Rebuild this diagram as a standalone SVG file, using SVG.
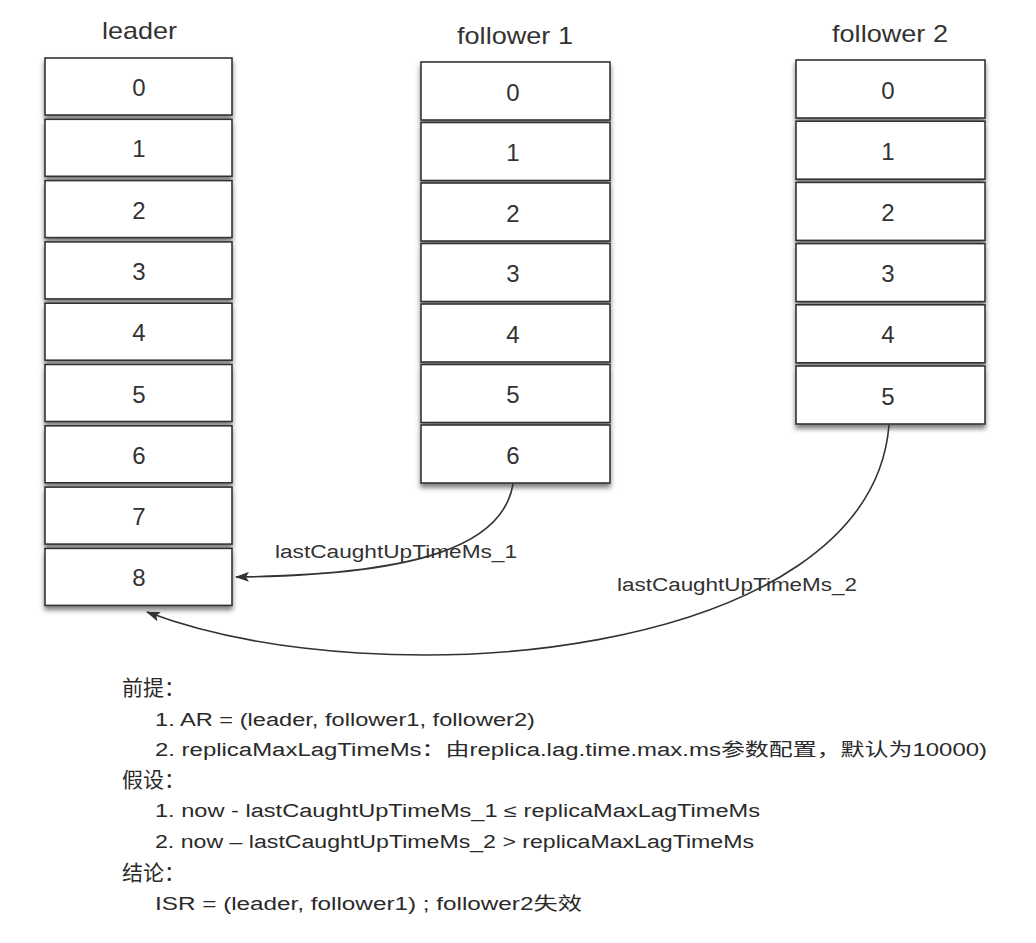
<svg xmlns="http://www.w3.org/2000/svg" width="1036" height="943" viewBox="0 0 1036 943">
<defs>
<filter id="sh" x="-10%" y="-20%" width="120%" height="160%">
<feDropShadow dx="0" dy="4" stdDeviation="2.5" flood-color="#666" flood-opacity="0.85"/>
</filter>
<marker id="ah" viewBox="0 0 14 10" refX="13" refY="5" markerWidth="14" markerHeight="10" markerUnits="userSpaceOnUse" orient="auto">
<path d="M0,0 L14,5 L0,10 L3,5 Z" fill="#333"/>
</marker>
</defs>
<style>
.cell{fill:#fff;stroke:#333;stroke-width:1.6;filter:url(#sh)}
.num{font-family:"Liberation Sans",Arial,sans-serif;font-size:24px;fill:#333;text-anchor:middle}
.ttl{font-family:"Liberation Sans",Arial,sans-serif;font-size:24px;fill:#333}
.lbl{font-family:"Liberation Sans",Arial,sans-serif;font-size:18px;fill:#333}
.txt{font-family:"Liberation Sans","Noto Sans CJK SC",sans-serif;font-size:18px;fill:#2a2a2a}
.hd{font-family:"Noto Sans CJK SC","Liberation Sans",sans-serif;font-size:21px;fill:#2a2a2a}
.con{fill:none;stroke:#333;stroke-width:1.6}
</style>
<rect width="1036" height="943" fill="#fff"/>

<g id="leader">
<text class="ttl" x="102" y="39" textLength="75" lengthAdjust="spacingAndGlyphs">leader</text>
<g id="leader-0"><rect class="cell" x="45" y="58" width="187" height="57"/><text class="num" x="139" y="96">0</text></g>
<g id="leader-1"><rect class="cell" x="45" y="119.3" width="187" height="57"/><text class="num" x="139" y="157.3">1</text></g>
<g id="leader-2"><rect class="cell" x="45" y="180.6" width="187" height="57"/><text class="num" x="139" y="218.6">2</text></g>
<g id="leader-3"><rect class="cell" x="45" y="241.9" width="187" height="57"/><text class="num" x="139" y="279.9">3</text></g>
<g id="leader-4"><rect class="cell" x="45" y="303.2" width="187" height="57"/><text class="num" x="139" y="341.2">4</text></g>
<g id="leader-5"><rect class="cell" x="45" y="364.5" width="187" height="57"/><text class="num" x="139" y="402.5">5</text></g>
<g id="leader-6"><rect class="cell" x="45" y="425.8" width="187" height="57"/><text class="num" x="139" y="463.8">6</text></g>
<g id="leader-7"><rect class="cell" x="45" y="487.1" width="187" height="57"/><text class="num" x="139" y="525.1">7</text></g>
<g id="leader-8"><rect class="cell" x="45" y="548.4" width="187" height="57"/><text class="num" x="139" y="586.4">8</text></g>
</g>

<g id="follower1">
<text class="ttl" x="457" y="44" textLength="116" lengthAdjust="spacingAndGlyphs">follower 1</text>
<g id="follower1-0"><rect class="cell" x="421" y="62" width="189" height="58"/><text class="num" x="513" y="100.5">0</text></g>
<g id="follower1-1"><rect class="cell" x="421" y="122.5" width="189" height="58"/><text class="num" x="513" y="161">1</text></g>
<g id="follower1-2"><rect class="cell" x="421" y="183" width="189" height="58"/><text class="num" x="513" y="221.5">2</text></g>
<g id="follower1-3"><rect class="cell" x="421" y="243.5" width="189" height="58"/><text class="num" x="513" y="282">3</text></g>
<g id="follower1-4"><rect class="cell" x="421" y="304" width="189" height="58"/><text class="num" x="513" y="342.5">4</text></g>
<g id="follower1-5"><rect class="cell" x="421" y="364.5" width="189" height="58"/><text class="num" x="513" y="403">5</text></g>
<g id="follower1-6"><rect class="cell" x="421" y="425" width="189" height="58"/><text class="num" x="513" y="463.5">6</text></g>
</g>

<g id="follower2">
<text class="ttl" x="832" y="42" textLength="116" lengthAdjust="spacingAndGlyphs">follower 2</text>
<g id="follower2-0"><rect class="cell" x="796" y="60" width="189" height="58"/><text class="num" x="888" y="98.5">0</text></g>
<g id="follower2-1"><rect class="cell" x="796" y="121.2" width="189" height="58"/><text class="num" x="888" y="159.7">1</text></g>
<g id="follower2-2"><rect class="cell" x="796" y="182.4" width="189" height="58"/><text class="num" x="888" y="220.9">2</text></g>
<g id="follower2-3"><rect class="cell" x="796" y="243.6" width="189" height="58"/><text class="num" x="888" y="282.1">3</text></g>
<g id="follower2-4"><rect class="cell" x="796" y="304.8" width="189" height="58"/><text class="num" x="888" y="343.3">4</text></g>
<g id="follower2-5"><rect class="cell" x="796" y="366" width="189" height="58"/><text class="num" x="888" y="404.5">5</text></g>
</g>

<g id="connectors">
<path class="con" d="M513,484 C503,545 420,575 236,577" marker-end="url(#ah)"/>
<path class="con" d="M889,425 C870,660 380,700 147,612" marker-end="url(#ah)"/>
<text class="lbl" x="275" y="558" textLength="242" lengthAdjust="spacingAndGlyphs">lastCaughtUpTimeMs_1</text>
<text class="lbl" x="617" y="591" textLength="240" lengthAdjust="spacingAndGlyphs">lastCaughtUpTimeMs_2</text>
</g>

<g id="notes">
<text class="hd" x="122" y="695">前提：</text>
<text class="txt" x="155" y="726" textLength="380" lengthAdjust="spacingAndGlyphs">1. AR = (leader, follower1, follower2)</text>
<text class="txt" x="155" y="756" textLength="832" lengthAdjust="spacingAndGlyphs">2. replicaMaxLagTimeMs：由replica.lag.time.max.ms参数配置，默认为10000)</text>
<text class="hd" x="122" y="787">假设：</text>
<text class="txt" x="155" y="817" textLength="605" lengthAdjust="spacingAndGlyphs">1. now - lastCaughtUpTimeMs_1  ≤  replicaMaxLagTimeMs</text>
<text class="txt" x="155" y="848" textLength="599" lengthAdjust="spacingAndGlyphs">2. now – lastCaughtUpTimeMs_2  &gt; replicaMaxLagTimeMs</text>
<text class="hd" x="122" y="880">结论：</text>
<text class="txt" x="155" y="910" textLength="427" lengthAdjust="spacingAndGlyphs">ISR = (leader, follower1) ;  follower2失效</text>
</g>
</svg>
